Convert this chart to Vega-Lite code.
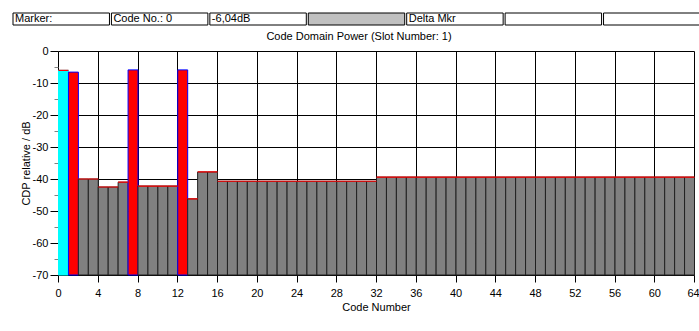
{
  "$schema": "https://vega.github.io/schema/vega-lite/v6.json",
  "padding": {"left": 12, "top": 12, "right": 0, "bottom": 0},
  "background": "white",
  "config": {"font": "Liberation Sans", "view": {"stroke": null}, "concat": {"spacing": 5}},
  "vconcat": [
    {
      "width": 636,
      "height": 12,
      "data": {"values": [
        {"id": 1, "label": "Marker:"},
        {"id": 2, "label": "Code No.: 0"},
        {"id": 3, "label": "-6,04dB"},
        {"id": 4, "label": ""},
        {"id": 5, "label": "Delta Mkr"},
        {"id": 6, "label": ""},
        {"id": 7, "label": ""}
      ]},
      "layer": [
        {
          "mark": {"type": "bar", "stroke": "black", "strokeWidth": 1},
          "encoding": {
            "x": {"field": "id", "type": "ordinal", "axis": null, "scale": {"paddingInner": 0.02, "paddingOuter": 0, "range": [-45, 642]}},
            "color": {"condition": {"test": "datum.id == 4", "value": "#c0c0c0"}, "value": "white"}
          }
        },
        {
          "mark": {"type": "text", "align": "left", "dx": 2, "fontSize": 11, "baseline": "middle", "color": "black"},
          "encoding": {
            "x": {"field": "id", "type": "ordinal", "bandPosition": 0, "axis": null},
            "text": {"field": "label"}
          }
        }
      ]
    },
    {
      "width": 636,
      "height": 224,
      "title": {"text": "Code Domain Power (Slot Number:  1)", "fontSize": 11, "fontWeight": "normal", "font": "Liberation Sans", "anchor": "middle", "dx": -17, "offset": 3, "color": "black"},
      "data": {"values": [
        {"code": 0, "db": -6.04, "type": "marker"},
        {"code": 1, "db": -6.6, "type": "active"},
        {"code": 2, "db": -40.0, "type": "inactive"},
        {"code": 3, "db": -40.0, "type": "inactive"},
        {"code": 4, "db": -42.5, "type": "inactive"},
        {"code": 5, "db": -42.5, "type": "inactive"},
        {"code": 6, "db": -41.0, "type": "inactive"},
        {"code": 7, "db": -5.9, "type": "active"},
        {"code": 8, "db": -42.2, "type": "inactive"},
        {"code": 9, "db": -42.2, "type": "inactive"},
        {"code": 10, "db": -42.2, "type": "inactive"},
        {"code": 11, "db": -42.2, "type": "inactive"},
        {"code": 12, "db": -5.9, "type": "active"},
        {"code": 13, "db": -46.2, "type": "inactive"},
        {"code": 14, "db": -37.8, "type": "inactive"},
        {"code": 15, "db": -37.8, "type": "inactive"},
        {"code": 16, "db": -40.7, "type": "inactive"},
        {"code": 17, "db": -40.7, "type": "inactive"},
        {"code": 18, "db": -40.7, "type": "inactive"},
        {"code": 19, "db": -40.7, "type": "inactive"},
        {"code": 20, "db": -40.7, "type": "inactive"},
        {"code": 21, "db": -40.7, "type": "inactive"},
        {"code": 22, "db": -40.7, "type": "inactive"},
        {"code": 23, "db": -40.7, "type": "inactive"},
        {"code": 24, "db": -40.7, "type": "inactive"},
        {"code": 25, "db": -40.7, "type": "inactive"},
        {"code": 26, "db": -40.7, "type": "inactive"},
        {"code": 27, "db": -40.7, "type": "inactive"},
        {"code": 28, "db": -40.7, "type": "inactive"},
        {"code": 29, "db": -40.7, "type": "inactive"},
        {"code": 30, "db": -40.7, "type": "inactive"},
        {"code": 31, "db": -40.7, "type": "inactive"},
        {"code": 32, "db": -39.4, "type": "inactive"},
        {"code": 33, "db": -39.4, "type": "inactive"},
        {"code": 34, "db": -39.4, "type": "inactive"},
        {"code": 35, "db": -39.4, "type": "inactive"},
        {"code": 36, "db": -39.4, "type": "inactive"},
        {"code": 37, "db": -39.4, "type": "inactive"},
        {"code": 38, "db": -39.4, "type": "inactive"},
        {"code": 39, "db": -39.4, "type": "inactive"},
        {"code": 40, "db": -39.4, "type": "inactive"},
        {"code": 41, "db": -39.4, "type": "inactive"},
        {"code": 42, "db": -39.4, "type": "inactive"},
        {"code": 43, "db": -39.4, "type": "inactive"},
        {"code": 44, "db": -39.4, "type": "inactive"},
        {"code": 45, "db": -39.4, "type": "inactive"},
        {"code": 46, "db": -39.4, "type": "inactive"},
        {"code": 47, "db": -39.4, "type": "inactive"},
        {"code": 48, "db": -39.4, "type": "inactive"},
        {"code": 49, "db": -39.4, "type": "inactive"},
        {"code": 50, "db": -39.4, "type": "inactive"},
        {"code": 51, "db": -39.4, "type": "inactive"},
        {"code": 52, "db": -39.4, "type": "inactive"},
        {"code": 53, "db": -39.4, "type": "inactive"},
        {"code": 54, "db": -39.4, "type": "inactive"},
        {"code": 55, "db": -39.4, "type": "inactive"},
        {"code": 56, "db": -39.4, "type": "inactive"},
        {"code": 57, "db": -39.4, "type": "inactive"},
        {"code": 58, "db": -39.4, "type": "inactive"},
        {"code": 59, "db": -39.4, "type": "inactive"},
        {"code": 60, "db": -39.4, "type": "inactive"},
        {"code": 61, "db": -39.4, "type": "inactive"},
        {"code": 62, "db": -39.4, "type": "inactive"},
        {"code": 63, "db": -39.4, "type": "inactive"}
      ]},
      "encoding": {
        "x": {
          "field": "code", "type": "quantitative", "bin": {"binned": true, "step": 1},
          "scale": {"domain": [0, 64], "nice": false},
          "axis": {
            "title": "Code Number", "values": [0, 4, 8, 12, 16, 20, 24, 28, 32, 36, 40, 44, 48, 52, 56, 60, 64],
            "format": "d", "grid": true, "gridColor": "black", "gridOpacity": 1, "gridWidth": 1,
            "domain": false, "tickColor": "black", "tickSize": 7, "labelPadding": 5,
            "labelOffset": {"condition": {"test": "datum.value == 64", "value": -1}, "value": 0},
            "labelFontSize": 11, "labelColor": "black", "labelFont": "Liberation Sans", "labelFlush": false, "labelOverlap": false,
            "titleFontSize": 11, "titleFontWeight": "normal", "titleColor": "black", "titleFont": "Liberation Sans", "titlePadding": 3
          }
        },
        "y": {
          "field": "db", "type": "quantitative",
          "scale": {"domain": [-70, 0], "nice": false, "zero": false},
          "axis": {
            "title": "CDP relative / dB",
            "values": [-70, -65, -60, -55, -50, -45, -40, -35, -30, -25, -20, -15, -10, -5, 0],
            "labelExpr": "datum.value % 10 == 0 ? toString(datum.value) : ''",
            "grid": true, "gridColor": "black",
            "gridOpacity": {"condition": {"test": "datum.value % 10 != 0", "value": 0}, "value": 1},
            "domain": false,
            "tickColor": {"condition": {"test": "datum.value % 10 != 0", "value": "#808080"}, "value": "black"},
            "tickSize": {"condition": {"test": "datum.value % 10 != 0", "value": 4}, "value": 8},
            "labelPadding": 2, "labelFontSize": 11, "labelColor": "black", "labelFont": "Liberation Sans",
            "titleFontSize": 11, "titleFontWeight": "normal", "titleColor": "black", "titleFont": "Liberation Sans", "titlePadding": 1
          }
        }
      },
      "layer": [
        {
          "mark": {"type": "bar", "strokeWidth": 1, "binSpacing": 0},
          "encoding": {
            "y2": {"datum": -70},
            "color": {"field": "type", "type": "nominal", "scale": {"domain": ["marker", "active", "inactive"], "range": ["#00ffff", "#ff0000", "#808080"]}, "legend": null},
            "stroke": {"field": "type", "type": "nominal", "scale": {"domain": ["marker", "active", "inactive"], "range": ["#00ffff", "#0000ff", "#202020"]}, "legend": null}
          }
        },
        {
          "transform": [{"filter": "datum.type != 'active'"}],
          "mark": {"type": "bar", "fill": "transparent", "stroke": "#ff0000", "strokeWidth": 1.2, "binSpacing": 0},
          "encoding": {
            "y2": {"field": "db"}
          }
        }
      ]
    }
  ]
}
